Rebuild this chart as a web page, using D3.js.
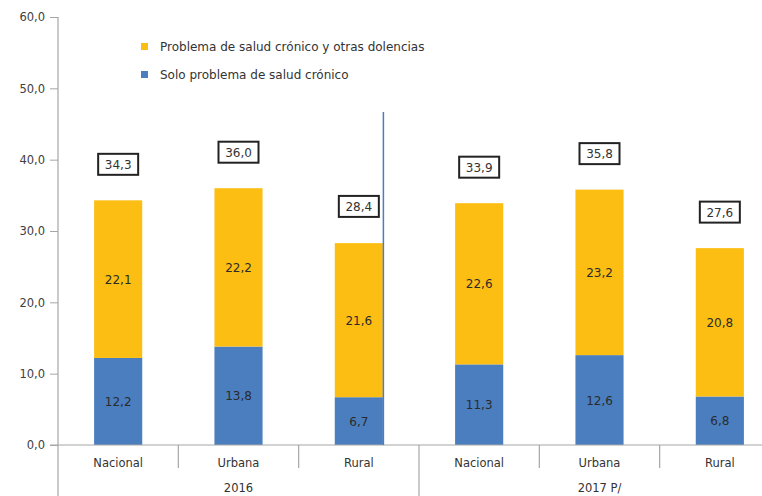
<!DOCTYPE html>
<html>
<head>
<meta charset="utf-8">
<script src="https://cdn.jsdelivr.net/npm/d3@7"></script>
<style>
  html, body { margin: 0; padding: 0; background: #fff; }
  svg { display: block; font-family: "DejaVu Sans", Arial, sans-serif; }
</style>
</head>
<body>
<svg id="chart" width="762" height="496"></svg>
<script>
// Categories and groups
const groups = ["2016", "2017 P/"];
const areas = ["Nacional", "Urbana", "Rural"];
// Series values (%)
const soloCronico = [12.2, 13.8, 6.7, 11.3, 12.6, 6.8];
const cronicoOtras = [22.1, 22.2, 21.6, 22.6, 23.2, 20.8];
const totals = [34.3, 36.0, 28.4, 33.9, 35.8, 27.6];
const yTicks = [0, 10, 20, 30, 40, 50, 60];
const seriesNames = ["Problema de salud crónico y otras dolencias", "Solo problema de salud crónico"];

const colBlue = "#4A7EBF";
const colYellow = "#FDBE14";
const axisColor = "#A6A6A6";
const fontFam = "'DejaVu Sans', Arial, sans-serif";
const fmt = v => d3.format(".1f")(v).replace(".", ",");

const svg = d3.select("#chart");
const plotLeft = 58, plotRight = 780, plotTop = 17, plotBase = 445;

const keys = [];
groups.forEach(g => areas.forEach(a => keys.push(g + "|" + a)));
const rows = keys.map((k, i) => ({ key: k, g: k.split("|")[0], a: k.split("|")[1],
  solo: soloCronico[i], otras: cronicoOtras[i], total: totals[i] }));

const x = d3.scaleBand().domain(keys).range([plotLeft, plotRight]).paddingInner(0.6).paddingOuter(0.3);
const xStep = d3.scaleBand().domain(keys).range([plotLeft, plotRight]);
const y = d3.scaleLinear().domain([0, 60]).range([plotBase, plotTop]);

// Y axis
const yAxis = d3.axisLeft(y).tickValues(yTicks).tickSize(8).tickPadding(5).tickFormat(fmt);
const gy = svg.append("g").attr("transform", `translate(${plotLeft},0)`).call(yAxis);
gy.select(".domain").remove();
gy.selectAll(".tick line").attr("stroke", axisColor);
gy.selectAll(".tick text").attr("fill", "#404040").attr("font-size", 11.5)
  .attr("font-family", fontFam);
svg.append("line").attr("x1", plotLeft).attr("x2", plotLeft).attr("y1", plotTop).attr("y2", 496)
  .attr("stroke", axisColor).attr("stroke-width", 1.2);

// Stacked bars
const stack = d3.stack().keys(["solo", "otras"]);
const layers = stack(rows);
const colors = { solo: colBlue, otras: colYellow };
layers.forEach(layer => {
  svg.append("g").selectAll("rect").data(layer).join("rect")
    .attr("x", d => x(d.data.key))
    .attr("width", x.bandwidth())
    .attr("y", d => y(d[1]))
    .attr("height", d => y(d[0]) - y(d[1]))
    .attr("fill", colors[layer.key]);
  svg.append("g").selectAll("text").data(layer).join("text")
    .attr("x", d => x(d.data.key) + x.bandwidth() / 2)
    .attr("y", d => (y(d[0]) + y(d[1])) / 2 + 4.5)
    .attr("text-anchor", "middle")
    .attr("font-size", 12)
    .attr("fill", "#2b2b2b")
    .text(d => fmt(d.data[layer.key]));
});

// X axis baseline
svg.append("line").attr("x1", plotLeft - 8).attr("x2", plotRight).attr("y1", plotBase).attr("y2", plotBase)
  .attr("stroke", axisColor).attr("stroke-width", 1.2);

// Category separators and labels
keys.forEach((k, i) => {
  if (i > 0) {
    const sx = xStep(k);
    const isGroupEdge = i % areas.length === 0;
    svg.append("line").attr("x1", sx).attr("x2", sx).attr("y1", plotBase)
      .attr("y2", isGroupEdge ? 496 : 468).attr("stroke", axisColor).attr("stroke-width", 1.2);
  }
});
svg.append("g").selectAll("text").data(rows).join("text")
  .attr("x", d => xStep(d.key) + xStep.bandwidth() / 2)
  .attr("y", 467)
  .attr("text-anchor", "middle")
  .attr("font-size", 11.5)
  .attr("fill", "#333")
  .text(d => d.a);
groups.forEach(g => {
  const ks = keys.filter(k => k.startsWith(g + "|"));
  const cx = (xStep(ks[0]) + xStep(ks[ks.length - 1]) + xStep.bandwidth()) / 2;
  svg.append("text").attr("x", cx).attr("y", 492)
    .attr("text-anchor", "middle").attr("font-size", 11.5).attr("fill", "#333").text(g);
});

// Total value boxes
const boxes = svg.append("g").selectAll("g").data(rows).join("g")
  .attr("transform", d => `translate(${x(d.key) + x.bandwidth() / 2},${y(d.total) - 36})`);
boxes.append("rect").attr("x", -20).attr("y", -10.5).attr("width", 40).attr("height", 21)
  .attr("fill", "#fff").attr("stroke", "#222").attr("stroke-width", 2);
boxes.append("text").attr("text-anchor", "middle").attr("y", 4.5).attr("font-size", 12)
  .attr("fill", "#333").text(d => fmt(d.total));

// Vertical marker line at the right edge of the 2016 rural bar
const rural16 = rows[2];
svg.append("line")
  .attr("x1", x(rural16.key) + x.bandwidth() + 0.5).attr("x2", x(rural16.key) + x.bandwidth() + 0.5)
  .attr("y1", 112).attr("y2", plotBase).attr("stroke", colBlue).attr("stroke-width", 1.5);

// Legend
const legend = svg.append("g").attr("transform", "translate(141,40)");
[colYellow, colBlue].forEach((c, i) => {
  legend.append("rect").attr("x", 0).attr("y", i * 28 + 3).attr("width", 7).attr("height", 7).attr("fill", c);
  legend.append("text").attr("x", 19).attr("y", i * 28 + 11).attr("font-size", 12)
    .attr("fill", "#333").text(seriesNames[i]);
});
</script>
</body>
</html>
